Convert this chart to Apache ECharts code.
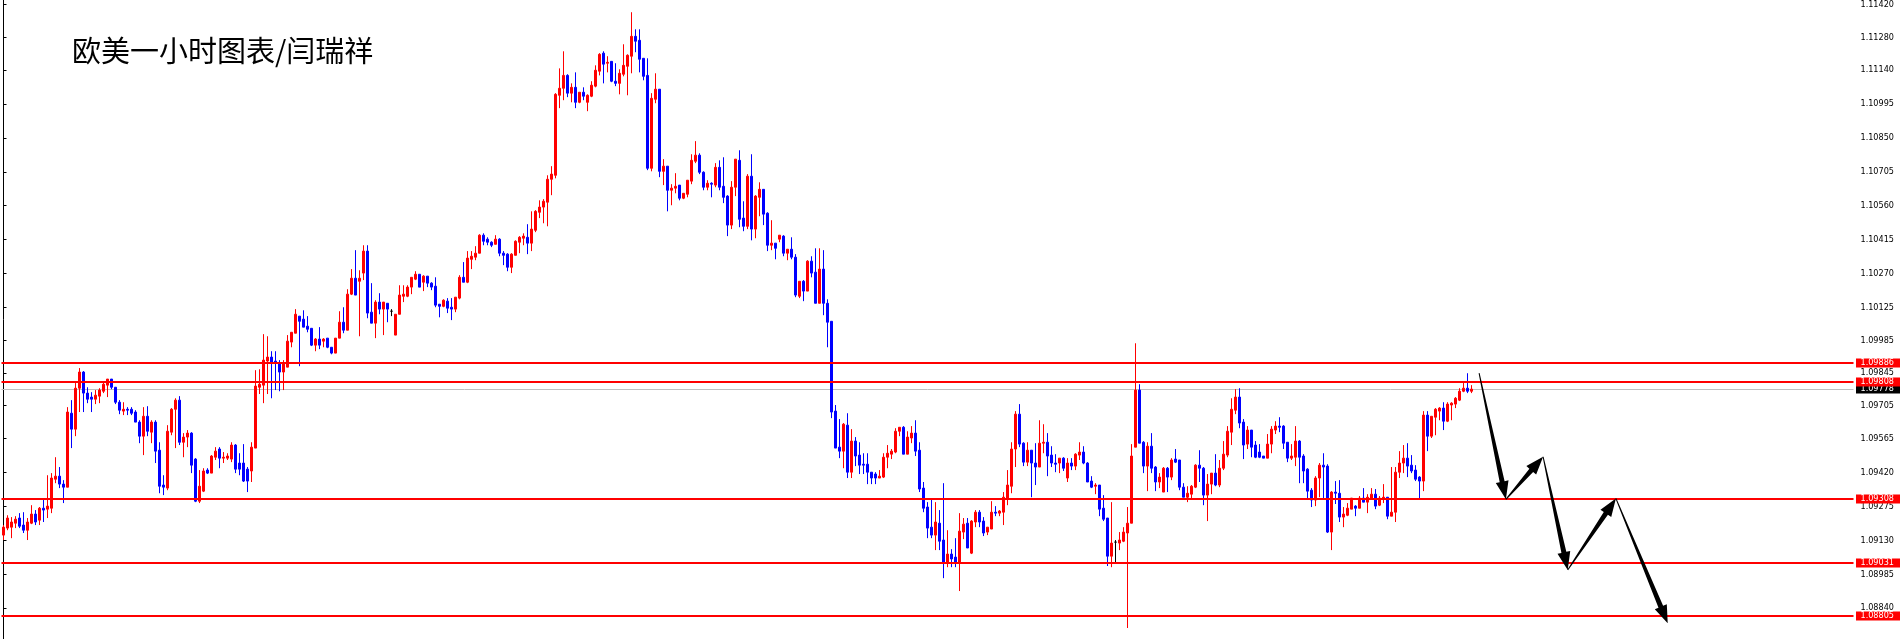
<!DOCTYPE html>
<html>
<head>
<meta charset="utf-8">
<script src="https://cdn.jsdelivr.net/npm/echarts@6/dist/echarts.min.js"></script>
<style>
html,body{margin:0;padding:0;background:#fff;}
#chart{width:1900px;height:639px;}
</style>
</head>
<body>
<div id="chart"></div>
<script>
const titleText = '欧美一小时图表/闫瑞祥';

const opens = [
1.09152,1.09182,1.09186,1.09203,1.09225,1.09195,1.09173,1.09203,1.09242,1.09216,
1.09267,1.09263,1.09267,1.09391,1.09404,1.09370,1.09357,1.09673,1.09605,1.09780,
1.09849,1.09759,1.09742,1.09733,1.09746,1.09767,1.09793,1.09819,1.09784,1.09720,
1.09682,1.09690,1.09690,1.09678,1.09635,1.09575,1.09660,1.09592,1.09635,1.09515,
1.09366,1.09353,1.09592,1.09690,1.09729,1.09549,1.09571,1.09588,1.09477,1.09297,
1.09340,1.09430,1.09417,1.09485,1.09520,1.09481,1.09481,1.09477,1.09537,1.09460,
1.09460,1.09434,1.09426,1.09524,1.09784,1.09793,1.09896,1.09913,1.09896,1.09887,
1.09849,1.09870,1.09977,1.10015,1.10088,1.10075,1.10045,1.10036,1.09964,1.09990,
1.09981,1.09994,1.09955,1.09930,1.09994,1.10062,1.10028,1.10182,1.10250,1.10237,
1.10272,1.10366,1.10105,1.10058,1.10148,1.10118,1.10143,1.10109,1.10007,1.10096,
1.10173,1.10173,1.10212,1.10246,1.10267,1.10233,1.10259,1.10229,1.10216,1.10139,
1.10130,1.10152,1.10126,1.10118,1.10165,1.10254,1.10233,1.10331,1.10340,1.10357,
1.10434,1.10417,1.10404,1.10395,1.10417,1.10357,1.10353,1.10297,1.10348,1.10404,
1.10421,1.10425,1.10400,1.10455,1.10532,1.10554,1.10575,1.10673,1.10690,1.11032,
1.11062,1.11117,1.11041,1.11066,1.11002,1.11045,1.11002,1.11028,1.11071,1.11135,
1.11212,1.11169,1.11177,1.11092,1.11083,1.11122,1.11156,1.11199,1.11284,1.11267,
1.11190,1.11117,1.10720,1.11015,1.11058,1.10707,1.10729,1.10626,1.10635,1.10648,
1.10592,1.10609,1.10665,1.10750,1.10776,1.10703,1.10639,1.10656,1.10648,1.10724,
1.10643,1.10601,1.10477,1.10639,1.10754,1.10507,1.10472,1.10686,1.10460,1.10596,
1.10630,1.10528,1.10391,1.10400,1.10417,1.10430,1.10357,1.10374,1.10340,1.10173,
1.10237,1.10195,1.10323,1.10276,1.10143,1.10289,1.10143,1.10066,1.09682,1.09528,
1.09511,1.09622,1.09421,1.09554,1.09494,1.09455,1.09455,1.09421,1.09413,1.09396,
1.09400,1.09485,1.09498,1.09507,1.09596,1.09613,1.09498,1.09567,1.09588,1.09515,
1.09353,1.09272,1.09186,1.09152,1.09203,1.09131,1.09032,1.09071,1.09058,1.09032,
1.09165,1.09203,1.09075,1.09208,1.09250,1.09212,1.09165,1.09178,1.09250,1.09246,
1.09250,1.09310,1.09361,1.09520,1.09669,1.09545,1.09464,1.09515,1.09460,1.09443,
1.09545,1.09549,1.09494,1.09460,1.09460,1.09481,1.09396,1.09460,1.09447,1.09494,
1.09507,1.09460,1.09383,1.09361,1.09366,1.09267,1.09225,1.09062,1.09122,1.09118,
1.09126,1.09161,1.09203,1.09528,1.09772,1.09549,1.09447,1.09532,1.09443,1.09379,
1.09336,1.09438,1.09400,1.09477,1.09473,1.09357,1.09314,1.09327,1.09357,1.09451,
1.09438,1.09323,1.09370,1.09417,1.09366,1.09438,1.09494,1.09592,1.09686,1.09742,
1.09635,1.09541,1.09601,1.09537,1.09507,1.09490,1.09481,1.09541,1.09601,1.09618,
1.09618,1.09549,1.09481,1.09485,1.09554,1.09490,1.09434,1.09344,1.09302,1.09396,
1.09451,1.09447,1.09165,1.09336,1.09331,1.09229,1.09237,1.09263,1.09276,1.09267,
1.09310,1.09293,1.09310,1.09327,1.09280,1.09310,1.09314,1.09233,1.09250,1.09421,
1.09460,1.09481,1.09451,1.09430,1.09400,1.09383,1.09665,1.09575,1.09656,1.09682,
1.09695,1.09639,1.09708,1.09712,1.09729,1.09767,1.09780,1.09767
];
const highs = [
1.09195,1.09237,1.09229,1.09233,1.09246,1.09250,1.09225,1.09280,1.09259,1.09272,
1.09302,1.09408,1.09417,1.09485,1.09443,1.09387,1.09699,1.09729,1.09802,1.09866,
1.09853,1.09784,1.09763,1.09772,1.09780,1.09806,1.09819,1.09819,1.09784,1.09729,
1.09720,1.09699,1.09699,1.09686,1.09643,1.09699,1.09703,1.09643,1.09643,1.09549,
1.09408,1.09622,1.09695,1.09737,1.09746,1.09588,1.09601,1.09592,1.09481,1.09430,
1.09438,1.09438,1.09494,1.09528,1.09528,1.09507,1.09502,1.09549,1.09541,1.09502,
1.09541,1.09443,1.09549,1.09857,1.09861,1.10011,1.10002,1.09938,1.09938,1.09900,
1.09900,1.10007,1.10019,1.10118,1.10088,1.10113,1.10088,1.10036,1.09994,1.10041,
1.09994,1.09994,1.09955,1.09994,1.10109,1.10126,1.10203,1.10289,1.10370,1.10284,
1.10391,1.10391,1.10229,1.10156,1.10186,1.10148,1.10143,1.10118,1.10096,1.10220,
1.10220,1.10220,1.10254,1.10280,1.10267,1.10263,1.10259,1.10233,1.10254,1.10139,
1.10160,1.10165,1.10165,1.10169,1.10263,1.10319,1.10366,1.10366,1.10387,1.10438,
1.10442,1.10425,1.10408,1.10434,1.10421,1.10366,1.10357,1.10357,1.10412,1.10430,
1.10442,1.10481,1.10536,1.10541,1.10583,1.10588,1.10690,1.10729,1.11041,1.11147,
1.11220,1.11122,1.11083,1.11130,1.11045,1.11066,1.11036,1.11092,1.11160,1.11212,
1.11220,1.11199,1.11177,1.11169,1.11143,1.11250,1.11207,1.11387,1.11314,1.11314,
1.11190,1.11190,1.11041,1.11126,1.11058,1.10759,1.10729,1.10652,1.10699,1.10648,
1.10613,1.10669,1.10780,1.10836,1.10784,1.10707,1.10669,1.10660,1.10742,1.10754,
1.10767,1.10605,1.10665,1.10759,1.10797,1.10579,1.10695,1.10780,1.10605,1.10660,
1.10630,1.10532,1.10498,1.10400,1.10434,1.10434,1.10374,1.10425,1.10353,1.10237,
1.10242,1.10327,1.10344,1.10378,1.10378,1.10370,1.10160,1.10066,1.09708,1.09648,
1.09631,1.09673,1.09605,1.09571,1.09549,1.09502,1.09502,1.09421,1.09421,1.09430,
1.09502,1.09537,1.09520,1.09609,1.09613,1.09618,1.09596,1.09618,1.09643,1.09549,
1.09379,1.09293,1.09310,1.09293,1.09259,1.09374,1.09173,1.09092,1.09139,1.09246,
1.09225,1.09225,1.09216,1.09259,1.09259,1.09229,1.09186,1.09297,1.09276,1.09259,
1.09336,1.09430,1.09549,1.09682,1.09712,1.09549,1.09549,1.09515,1.09545,1.09643,
1.09626,1.09588,1.09532,1.09498,1.09481,1.09485,1.09481,1.09481,1.09502,1.09549,
1.09532,1.09464,1.09404,1.09374,1.09366,1.09323,1.09225,1.09293,1.09131,1.09165,
1.09186,1.09272,1.09541,1.09972,1.09797,1.09554,1.09549,1.09588,1.09447,1.09417,
1.09443,1.09443,1.09481,1.09520,1.09473,1.09374,1.09361,1.09366,1.09455,1.09515,
1.09443,1.09413,1.09417,1.09498,1.09473,1.09554,1.09618,1.09737,1.09776,1.09780,
1.09648,1.09618,1.09601,1.09554,1.09541,1.09490,1.09584,1.09618,1.09639,1.09656,
1.09622,1.09549,1.09541,1.09618,1.09558,1.09498,1.09438,1.09353,1.09404,1.09460,
1.09502,1.09455,1.09340,1.09383,1.09387,1.09272,1.09289,1.09310,1.09280,1.09319,
1.09353,1.09327,1.09353,1.09349,1.09319,1.09370,1.09314,1.09443,1.09443,1.09511,
1.09537,1.09545,1.09494,1.09451,1.09404,1.09682,1.09682,1.09660,1.09695,1.09699,
1.09720,1.09720,1.09720,1.09742,1.09780,1.09802,1.09844,1.09793
];
const lows = [
1.09131,1.09173,1.09139,1.09182,1.09182,1.09161,1.09131,1.09199,1.09195,1.09195,
1.09208,1.09225,1.09246,1.09374,1.09353,1.09289,1.09357,1.09524,1.09575,1.09678,
1.09678,1.09716,1.09678,1.09712,1.09716,1.09759,1.09742,1.09776,1.09712,1.09669,
1.09665,1.09665,1.09665,1.09635,1.09545,1.09494,1.09575,1.09545,1.09460,1.09331,
1.09323,1.09344,1.09579,1.09524,1.09537,1.09485,1.09528,1.09417,1.09293,1.09289,
1.09336,1.09413,1.09417,1.09473,1.09438,1.09460,1.09473,1.09464,1.09417,1.09408,
1.09379,1.09336,1.09379,1.09524,1.09755,1.09716,1.09755,1.09737,1.09772,1.09767,
1.09772,1.09870,1.09955,1.10015,1.09874,1.10041,1.10019,1.09960,1.09938,1.09947,
1.09955,1.09951,1.09925,1.09930,1.09994,1.10015,1.10028,1.10178,1.10178,1.10002,
1.10242,1.10079,1.10058,1.09994,1.10096,1.10007,1.10062,1.10088,1.10007,1.10096,
1.10148,1.10169,1.10182,1.10242,1.10212,1.10195,1.10212,1.10199,1.10126,1.10083,
1.10126,1.10101,1.10071,1.10105,1.10160,1.10233,1.10229,1.10289,1.10327,1.10357,
1.10391,1.10391,1.10383,1.10395,1.10344,1.10306,1.10280,1.10272,1.10348,1.10357,
1.10391,1.10353,1.10366,1.10447,1.10507,1.10485,1.10472,1.10605,1.10677,1.10977,
1.11011,1.11024,1.11002,1.10977,1.10998,1.11011,1.10964,1.11024,1.11066,1.11117,
1.11083,1.11130,1.11088,1.11071,1.11036,1.11113,1.11032,1.11126,1.11216,1.11130,
1.11096,1.10712,1.10707,1.10998,1.10682,1.10648,1.10536,1.10562,1.10613,1.10583,
1.10588,1.10596,1.10652,1.10742,1.10695,1.10626,1.10626,1.10596,1.10639,1.10626,
1.10571,1.10430,1.10460,1.10601,1.10468,1.10451,1.10460,1.10412,1.10421,1.10515,
1.10477,1.10366,1.10370,1.10331,1.10404,1.10344,1.10327,1.10331,1.10169,1.10165,
1.10152,1.10195,1.10254,1.10143,1.10143,1.10092,1.09955,1.09652,1.09524,1.09481,
1.09438,1.09396,1.09396,1.09447,1.09413,1.09413,1.09370,1.09370,1.09370,1.09396,
1.09396,1.09438,1.09477,1.09502,1.09575,1.09498,1.09498,1.09545,1.09490,1.09336,
1.09250,1.09139,1.09139,1.09088,1.09088,1.08968,1.09015,1.09015,1.09015,1.08913,
1.09135,1.09097,1.09071,1.09186,1.09186,1.09148,1.09152,1.09178,1.09233,1.09233,
1.09195,1.09280,1.09331,1.09443,1.09528,1.09447,1.09447,1.09314,1.09366,1.09443,
1.09502,1.09404,1.09443,1.09421,1.09417,1.09426,1.09379,1.09430,1.09430,1.09473,
1.09455,1.09379,1.09353,1.09327,1.09233,1.09212,1.09020,1.09015,1.09032,1.09088,
1.09122,1.08755,1.09203,1.09528,1.09545,1.09417,1.09340,1.09417,1.09340,1.09353,
1.09336,1.09336,1.09387,1.09460,1.09344,1.09314,1.09293,1.09310,1.09353,1.09379,
1.09280,1.09212,1.09327,1.09361,1.09357,1.09430,1.09485,1.09537,1.09669,1.09609,
1.09477,1.09520,1.09485,1.09481,1.09481,1.09481,1.09481,1.09502,1.09584,1.09592,
1.09520,1.09464,1.09473,1.09447,1.09374,1.09374,1.09310,1.09272,1.09276,1.09314,
1.09310,1.09161,1.09088,1.09285,1.09208,1.09186,1.09233,1.09263,1.09233,1.09267,
1.09293,1.09246,1.09306,1.09263,1.09276,1.09289,1.09220,1.09233,1.09208,1.09396,
1.09417,1.09400,1.09417,1.09383,1.09310,1.09340,1.09511,1.09567,1.09579,1.09643,
1.09601,1.09635,1.09643,1.09695,1.09725,1.09763,1.09759,1.09759
];
const closes = [
1.09186,1.09225,1.09208,1.09220,1.09190,1.09173,1.09208,1.09242,1.09208,1.09267,
1.09259,1.09276,1.09396,1.09404,1.09370,1.09357,1.09678,1.09605,1.09780,1.09849,
1.09759,1.09733,1.09733,1.09750,1.09772,1.09797,1.09819,1.09784,1.09720,1.09686,
1.09690,1.09686,1.09673,1.09635,1.09575,1.09660,1.09596,1.09635,1.09511,1.09361,
1.09357,1.09596,1.09690,1.09729,1.09549,1.09571,1.09588,1.09451,1.09297,1.09361,
1.09426,1.09417,1.09490,1.09511,1.09481,1.09485,1.09490,1.09537,1.09434,1.09434,
1.09383,1.09383,1.09528,1.09789,1.09797,1.09900,1.09913,1.09887,1.09887,1.09849,
1.09887,1.09981,1.10019,1.10096,1.10066,1.10041,1.10032,1.09964,1.09990,1.09964,
1.09990,1.09955,1.09930,1.09994,1.10062,1.10028,1.10182,1.10250,1.10178,1.10250,
1.10366,1.10101,1.10058,1.10148,1.10118,1.10148,1.10118,1.10109,1.10096,1.10178,
1.10182,1.10212,1.10254,1.10267,1.10212,1.10259,1.10229,1.10212,1.10135,1.10130,
1.10156,1.10122,1.10118,1.10169,1.10254,1.10233,1.10336,1.10344,1.10357,1.10434,
1.10408,1.10404,1.10391,1.10417,1.10357,1.10348,1.10297,1.10353,1.10408,1.10425,
1.10430,1.10400,1.10460,1.10536,1.10554,1.10579,1.10673,1.10695,1.11036,1.11062,
1.11117,1.11041,1.11066,1.11002,1.11045,1.11028,1.11032,1.11075,1.11139,1.11207,
1.11165,1.11173,1.11092,1.11083,1.11126,1.11160,1.11203,1.11284,1.11263,1.11186,
1.11113,1.10720,1.11019,1.11058,1.10707,1.10729,1.10626,1.10635,1.10643,1.10592,
1.10613,1.10669,1.10754,1.10776,1.10703,1.10639,1.10656,1.10652,1.10724,1.10639,
1.10596,1.10477,1.10639,1.10759,1.10502,1.10472,1.10686,1.10460,1.10601,1.10630,
1.10524,1.10391,1.10400,1.10378,1.10434,1.10357,1.10374,1.10340,1.10178,1.10237,
1.10195,1.10323,1.10272,1.10143,1.10289,1.10143,1.10062,1.09678,1.09524,1.09511,
1.09626,1.09421,1.09554,1.09490,1.09451,1.09451,1.09421,1.09396,1.09396,1.09404,
1.09485,1.09502,1.09511,1.09596,1.09613,1.09498,1.09571,1.09588,1.09511,1.09349,
1.09267,1.09182,1.09152,1.09208,1.09126,1.09032,1.09071,1.09050,1.09032,1.09169,
1.09199,1.09097,1.09212,1.09250,1.09208,1.09161,1.09186,1.09250,1.09246,1.09255,
1.09314,1.09366,1.09520,1.09669,1.09541,1.09464,1.09515,1.09460,1.09443,1.09545,
1.09549,1.09490,1.09460,1.09455,1.09481,1.09438,1.09460,1.09447,1.09498,1.09507,
1.09460,1.09379,1.09357,1.09366,1.09263,1.09220,1.09062,1.09118,1.09122,1.09131,
1.09165,1.09203,1.09490,1.09772,1.09545,1.09447,1.09532,1.09438,1.09379,1.09400,
1.09438,1.09400,1.09473,1.09464,1.09357,1.09314,1.09331,1.09361,1.09451,1.09438,
1.09323,1.09370,1.09417,1.09366,1.09438,1.09498,1.09596,1.09690,1.09742,1.09631,
1.09537,1.09601,1.09528,1.09485,1.09485,1.09481,1.09541,1.09605,1.09618,1.09613,
1.09545,1.09481,1.09490,1.09554,1.09485,1.09426,1.09340,1.09302,1.09396,1.09451,
1.09443,1.09165,1.09336,1.09331,1.09229,1.09242,1.09267,1.09310,1.09267,1.09310,
1.09293,1.09314,1.09327,1.09276,1.09310,1.09314,1.09233,1.09250,1.09421,1.09460,
1.09481,1.09447,1.09426,1.09391,1.09383,1.09665,1.09575,1.09660,1.09690,1.09695,
1.09639,1.09712,1.09716,1.09737,1.09767,1.09780,1.09767,1.09776
];

const tickValues = [1.11420,1.11280,1.11140,1.10995,1.10850,1.10705,1.10560,1.10415,1.10270,1.10125,
  1.09985,1.09845,1.09705,1.09565,1.09420,1.09275,1.09130,1.08985,1.08840];
const levelPrices = [1.09886, 1.09808, 1.09308, 1.09031, 1.08805];
const currentPrice = 1.09778;
// arrow path: [bar position, price]
const arrowPoints = [[368.9,1.09844],[375.6,1.09305],[384.9,1.09487],[391.05,1.09003],[403.1,1.09309],[416.05,1.08775]];

const barSlots = 463;
const categories = [];
for (let i = 0; i < barSlots; i++) categories.push(String(i));
const candles = opens.map((o, i) => [o, closes[i], lows[i], highs[i]]);
const arrowSegs = [];
for (let i = 0; i < arrowPoints.length - 1; i++) {
  arrowSegs.push([arrowPoints[i][0], arrowPoints[i][1], arrowPoints[i+1][0], arrowPoints[i+1][1]]);
}
// [price, kind] kind 0 = current price (gray line, black tag), 1 = red level
const hLines = [[currentPrice, 0]].concat(levelPrices.map(v => [v, 1]));

const fmt = v => Number(v).toFixed(5);
const AXIS_FONT = '"DejaVu Sans Condensed", "DejaVu Sans"';
const AXIS_SIZE = 9;

const chart = echarts.init(document.getElementById('chart'), null, { renderer: 'canvas' });
chart.setOption({
  animation: false,
  backgroundColor: '#ffffff',
  title: {
    text: titleText, left: 72, top: 36, padding: 0,
    textStyle: { fontFamily: 'Noto Sans CJK SC', fontSize: 29, fontWeight: 'normal', color: '#000' }
  },
  grid: { left: 1.5, right: 46.5, top: 0, bottom: 0, containLabel: false },
  xAxis: [
    { type: 'category', data: categories, boundaryGap: true, show: false },
    { type: 'value', min: -0.5, max: barSlots - 0.5, show: false }
  ],
  yAxis: {
    type: 'value', position: 'right', min: 1.08708, max: 1.11438, scale: true,
    splitLine: { show: false },
    axisLine: { show: true, lineStyle: { color: '#000', width: 1 } },
    axisTick: { show: true, inside: false, length: 3, customValues: tickValues, lineStyle: { color: '#000' } },
    axisLabel: {
      customValues: tickValues, formatter: v => fmt(v), margin: 7,
      color: '#000', fontSize: AXIS_SIZE, fontFamily: AXIS_FONT
    }
  },
  series: [
    {
      type: 'custom',
      xAxisIndex: 1, yAxisIndex: 0,
      silent: true, clip: false, z: 1,
      data: hLines.filter(d => d[1] === 0),
      renderItem: function (params, api) {
        const cs = params.coordSys;
        const y = Math.round(api.coord([0, api.value(0)])[1]) + 0.5;
        return {
          type: 'line',
          shape: { x1: cs.x, y1: y, x2: cs.x + cs.width, y2: y },
          style: { stroke: '#c0c0c0', lineWidth: 1 }
        };
      }
    },
    {
      type: 'candlestick',
      xAxisIndex: 0, yAxisIndex: 0,
      data: candles,
      barWidth: 2,
      silent: true, z: 2,
      itemStyle: {
        color: '#ff0000', color0: '#0000ff',
        borderColor: '#ff0000', borderColor0: '#0000ff',
        borderColorDoji: '#000000', borderWidth: 1
      }
    },
    {
      type: 'custom',
      xAxisIndex: 1, yAxisIndex: 0,
      silent: true, clip: false, z: 3,
      data: hLines,
      renderItem: function (params, api) {
        const cs = params.coordSys;
        const price = api.value(0);
        const kind = api.value(1);
        const yc = api.coord([0, price])[1];
        const children = [];
        if (kind === 1) {
          const y = Math.round(yc);
          children.push({
            type: 'line',
            shape: { x1: cs.x, y1: y, x2: cs.x + cs.width, y2: y },
            style: { stroke: '#ff0000', lineWidth: 2 }
          });
        }
        const bx = cs.x + cs.width + 2.5;
        children.push({
          type: 'rect',
          shape: { x: bx, y: Math.round(yc) - 4.5, width: 1900 - bx, height: 9 },
          style: { fill: kind === 1 ? '#ff0000' : '#000000' }
        });
        children.push({
          type: 'text',
          style: {
            x: bx + 4.5, y: Math.round(yc), text: fmt(price),
            fill: '#ffffff', font: AXIS_SIZE + 'px ' + AXIS_FONT,
            verticalAlign: 'middle', align: 'left'
          }
        });
        return { type: 'group', children: children };
      }
    },
    {
      type: 'custom',
      xAxisIndex: 1, yAxisIndex: 0,
      silent: true, z: 4,
      data: arrowSegs,
      encode: { x: [0, 2], y: [1, 3] },
      renderItem: function (params, api) {
        const s = api.coord([api.value(0), api.value(1)]);
        const e = api.coord([api.value(2), api.value(3)]);
        const dx = e[0] - s[0], dy = e[1] - s[1];
        const len = Math.sqrt(dx * dx + dy * dy);
        const ux = dx / len, uy = dy / len;
        const nx = -uy, ny = ux;
        const headLen = 18, headHalf = 6.5, shaftEnd = 2.5, shaftStart = 0.5;
        const bx = e[0] - ux * headLen, by = e[1] - uy * headLen;
        const pts = [
          [s[0] + nx * shaftStart, s[1] + ny * shaftStart],
          [bx + nx * shaftEnd, by + ny * shaftEnd],
          [bx + nx * headHalf, by + ny * headHalf],
          [e[0], e[1]],
          [bx - nx * headHalf, by - ny * headHalf],
          [bx - nx * shaftEnd, by - ny * shaftEnd],
          [s[0] - nx * shaftStart, s[1] - ny * shaftStart]
        ];
        return { type: 'polygon', shape: { points: pts }, style: { fill: '#000', stroke: null } };
      }
    }
  ]
});
</script>
</body>
</html>
